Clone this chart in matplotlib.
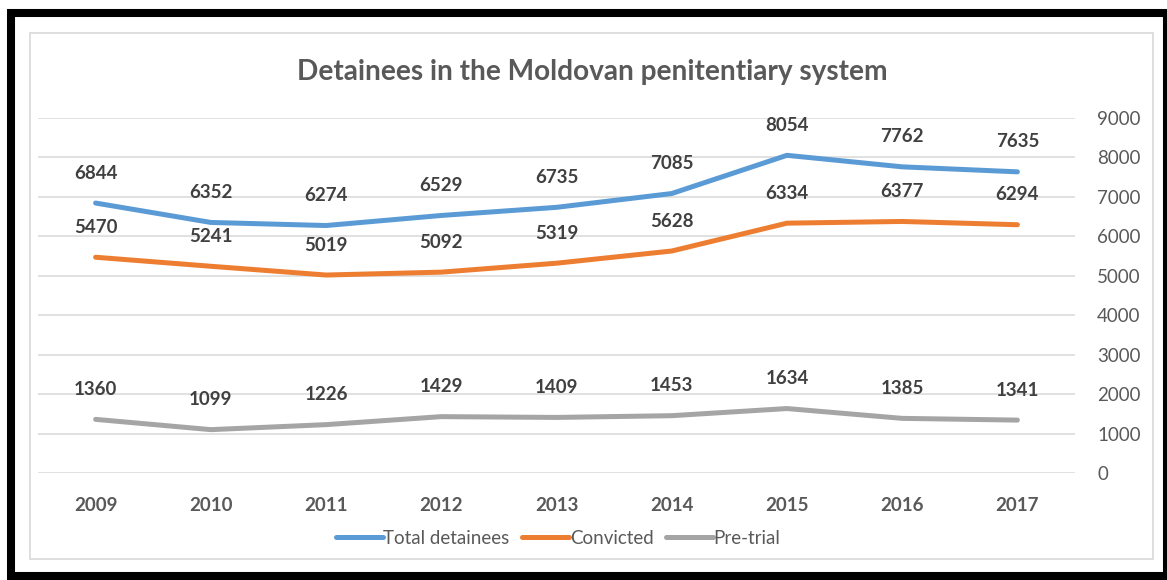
import matplotlib.pyplot as plt
from matplotlib.patches import Rectangle

# Data
years = ['2009', '2010', '2011', '2012', '2013', '2014', '2015', '2016', '2017']
total_detainees = [6844, 6352, 6274, 6529, 6735, 7085, 8054, 7762, 7635]
convicted = [5470, 5241, 5019, 5092, 5319, 5628, 6334, 6377, 6294]
pre_trial = [1360, 1099, 1226, 1429, 1409, 1453, 1634, 1385, 1341]

series_names = ['Total detainees', 'Convicted', 'Pre-trial']
series_colors = ['#5B9BD5', '#ED7D31', '#A5A5A5']

TEXT_COLOR = '#595959'
LABEL_COLOR = '#404040'
GRID_COLOR = '#D9D9D9'
FONT = 'Lato'

W, H = 1167, 580
DPI = 100

fig = plt.figure(figsize=(W / DPI, H / DPI), dpi=DPI)
fig.patch.set_facecolor('white')

# outer black frame and inner chart border (pixel coords converted to figure fraction)
def px_rect(x0, y0, x1, y1, **kw):
    r = Rectangle((x0 / W, 1 - y1 / H), (x1 - x0) / W, (y1 - y0) / H,
                  transform=fig.transFigure, fill=False, **kw)
    fig.patches.append(r)

px_rect(11, 13, 1167, 576, edgecolor='black', linewidth=5.8)
px_rect(30, 33, 1153, 559, edgecolor=GRID_COLOR, linewidth=1.2)

ax = fig.add_axes([38 / W, 1 - 473 / H, (1075 - 38) / W, (473 - 118) / H])
ax.set_facecolor('none')

x = list(range(len(years)))
all_series = [total_detainees, convicted, pre_trial]
for name, vals, col in zip(series_names, all_series, series_colors):
    ax.plot(x, vals, color=col, linewidth=3.6, solid_capstyle='round',
            solid_joinstyle='round', label=name, zorder=3)
    for xi, v in zip(x, vals):
        ax.annotate(str(v), (xi, v), xytext=(0, 21.5), textcoords='offset points',
                    ha='center', va='center', fontsize=13.5, fontweight='bold',
                    family=FONT, color=LABEL_COLOR, zorder=4)

ax.set_xlim(-0.5, len(years) - 0.5)
ax.set_ylim(0, 9000)
ax.set_yticks(range(0, 9001, 1000))
ax.yaxis.tick_right()
ax.grid(axis='y', color=GRID_COLOR, linewidth=1.1, zorder=0)
ax.set_axisbelow(True)
for s in ax.spines.values():
    s.set_visible(False)
ax.tick_params(axis='y', length=0, pad=16, labelsize=13.5, labelcolor=TEXT_COLOR)
ax.tick_params(axis='x', length=0, pad=17, labelsize=13.5, labelcolor=TEXT_COLOR)
for lbl in ax.get_yticklabels():
    lbl.set_family(FONT)
    lbl.set_horizontalalignment('left')
ax.set_xticks(x)
ax.set_xticklabels(years, family=FONT, fontweight='bold')

fig.text(592 / W, 1 - 72 / H, 'Detainees in the Moldovan penitentiary system',
         ha='center', va='center', fontsize=20.2, fontweight='bold',
         family=FONT, color=TEXT_COLOR)

leg = ax.legend(loc='center', bbox_to_anchor=(558 / W, 1 - 538 / H),
                bbox_transform=fig.transFigure, ncol=3, frameon=False,
                handlelength=2.5, handletextpad=0.05, columnspacing=0.65,
                prop={'family': FONT, 'size': 13.5})
for t in leg.get_texts():
    t.set_color(TEXT_COLOR)

fig.savefig('out.png', dpi=DPI)
